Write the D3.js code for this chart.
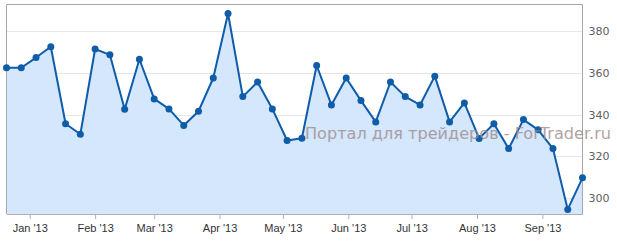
<!DOCTYPE html>
<html>
<head>
<meta charset="utf-8">
<script src="https://cdn.jsdelivr.net/npm/d3@7"></script>
<style>
  body { margin: 0; background: #fff; }
  svg { display: block; }
</style>
</head>
<body>
<div id="viz"></div>
<script>
const width = 617;
const height = 245;
const margin = {top: 4.5, right: 34.5, bottom: 31, left: 6.5};

// weekly closes, first Friday is 21 Dec 2012
const startDate = new Date(Date.UTC(2012, 11, 21));
const values = [
  362.4, 362.4, 367.3, 372.5, 335.6, 330.6, 371.4, 368.6, 342.5, 366.5,
  347.5, 342.7, 334.8, 341.6, 357.5, 388.4, 348.6, 355.6, 342.7, 327.6,
  328.7, 363.5, 344.6, 357.5, 346.7, 336.5, 355.6, 348.6, 344.6, 358.4,
  336.5, 345.6, 328.6, 335.6, 323.7, 337.6, 332.7, 323.7, 294.6, 309.7
];
const yTicks = [300, 320, 340, 360, 380];
const yDomain = [292.4, 392.7];
const monthTicks = d3.range(0, 9).map(m => new Date(Date.UTC(2013, m, 1)));
const watermark = 'Портал для трейдеров - ForTrader.ru';

const data = values.map((v, i) => ({
  date: d3.utcDay.offset(startDate, i * 7),
  value: v
}));

const svg = d3.select('#viz')
  .append('svg')
    .attr('width', width)
    .attr('height', height);

const xScale = d3.scaleUtc()
  .domain(d3.extent(data, d => d.date))
  .range([margin.left, width - margin.right]);

const yScale = d3.scaleLinear()
  .domain(yDomain)
  .range([height - margin.bottom, margin.top]);

// gridlines
svg.append('g')
  .selectAll('line')
  .data(yTicks)
  .join('line')
    .attr('x1', margin.left)
    .attr('x2', width - margin.right)
    .attr('y1', d => Math.round(yScale(d)) + 0.5)
    .attr('y2', d => Math.round(yScale(d)) + 0.5)
    .attr('stroke', '#e6e6e6')
    .attr('stroke-width', 1);

// area under the line
const areaGenerator = d3.area()
  .x(d => xScale(d.date))
  .y0(height - margin.bottom)
  .y1(d => yScale(d.value));

svg.append('path')
  .attr('d', areaGenerator(data))
  .attr('fill', '#cfe4fd')
  .attr('opacity', 0.9);

// frame: top, left, right
svg.append('path')
  .attr('d', `M${margin.left},${height - margin.bottom}V${margin.top}H${width - margin.right}V${height - margin.bottom}`)
  .attr('fill', 'none')
  .attr('stroke', '#a6a6a6')
  .attr('stroke-width', 1);

// x axis
const xAxis = d3.axisBottom(xScale)
  .tickValues(monthTicks)
  .tickSizeInner(5)
  .tickSizeOuter(0)
  .tickFormat(d => d3.utcFormat('%b')(d) + " '" + d3.utcFormat('%y')(d));

const gx = svg.append('g')
  .attr('transform', `translate(0, ${height - margin.bottom})`)
  .call(xAxis);
gx.select('.domain').attr('stroke', '#b0b0b0');
gx.selectAll('.tick line').attr('stroke', '#b0b0b0');
gx.selectAll('.tick text')
  .attr('y', 10)
  .attr('fill', '#333')
  .style('font-family', 'Liberation Sans, Arial, sans-serif')
  .style('font-size', '11px');

// y axis on the right, labels only
const yAxis = d3.axisRight(yScale)
  .tickValues(yTicks)
  .tickSize(0)
  .tickPadding(6);

const gy = svg.append('g')
  .attr('transform', `translate(${width - margin.right}, 0)`)
  .call(yAxis);
gy.select('.domain').remove();
gy.selectAll('.tick text')
  .attr('fill', '#606060')
  .style('font-family', 'DejaVu Sans, sans-serif')
  .style('font-size', '11px');

// line and markers
const lineGenerator = d3.line()
  .x(d => xScale(d.date))
  .y(d => yScale(d.value));

svg.append('path')
  .attr('d', lineGenerator(data))
  .attr('fill', 'none')
  .attr('stroke', '#0f5ca8')
  .attr('stroke-width', 2)
  .attr('stroke-linejoin', 'round');

svg.append('g')
  .selectAll('circle')
  .data(data)
  .join('circle')
    .attr('cx', d => xScale(d.date))
    .attr('cy', d => yScale(d.value))
    .attr('r', 3.5)
    .attr('fill', '#0f5ca8');

// watermark
svg.append('text')
  .attr('x', 305)
  .attr('y', 138.5)
  .attr('fill', '#a08c8c')
  .attr('opacity', 0.8)
  .style('font-family', 'DejaVu Sans, sans-serif')
  .style('font-size', '16px')
  .attr('textLength', 306)
  .attr('lengthAdjust', 'spacingAndGlyphs')
  .text(watermark);
</script>
</body>
</html>
